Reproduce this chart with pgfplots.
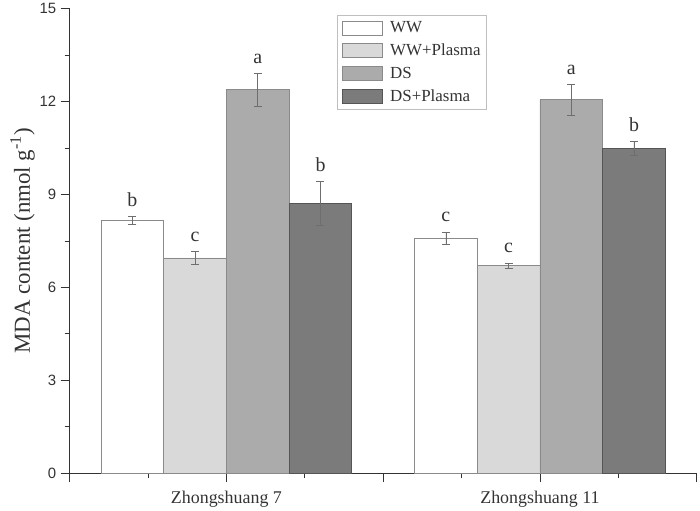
\documentclass[border=0pt]{standalone}
\usepackage{fontspec}
\setmainfont{Liberation Serif}
\newfontfamily\arial{Liberation Sans}
\usepackage{pgfplots}
\pgfplotsset{compat=1.18}
\definecolor{cWW}{HTML}{FFFFFF}
\definecolor{cWWP}{HTML}{D9D9D9}
\definecolor{cDS}{HTML}{ABABAB}
\definecolor{cDSP}{HTML}{7B7B7B}
\definecolor{edgeL}{HTML}{8A8A8A}
\definecolor{edgeD}{HTML}{555555}
\definecolor{errc}{HTML}{6E6E6E}
\definecolor{axc}{HTML}{333333}
\begin{document}
\begin{tikzpicture}
\begin{axis}[
  at={(0,0)}, anchor=south west,
  scale only axis, width=630pt, height=467pt,
  xmin=0.5, xmax=2.5, ymin=0, ymax=15,
  axis x line*=bottom, axis y line*=left,
  axis line style={axc, line width=0.8pt},
  every tick/.style={axc, line width=0.8pt},
  tick align=outside,
  major tick length=9pt, minor tick length=5pt,
  xtick={0.5,1,1.5,2,2.5},
  xticklabels={,Zhongshuang 7,,Zhongshuang 11,},
  minor xtick={0.75,1.25,1.75,2.25},
  ytick={0,3,6,9,12,15},
  minor ytick={1.5,4.5,7.5,10.5,13.5},
  /pgf/number format/assume math mode=true,
  yticklabel style={font=\arial\fontsize{15}{17}\selectfont, text=axc, xshift=-1pt},
  xticklabel style={font=\fontsize{18}{21}\selectfont, text=axc, yshift=-5pt},
  ylabel={MDA content (nmol g\textsuperscript{-1})},
  ylabel style={font=\fontsize{23}{26}\selectfont, text=axc, at={(axis description cs:-0.075,0.5)}, anchor=center},
  ybar, bar width=0.2, bar shift=0pt,
  error bars/y dir=both, error bars/y explicit,
  error bars/error bar style={errc, line width=0.6pt},
  error bars/error mark options={rotate=90, mark size=4pt, errc, line width=0.6pt},
  legend style={at={(rel axis cs:0.427,0.985)}, anchor=north west,
    draw=lightgray, font=\fontsize{17}{20}\selectfont, text=axc,
    inner sep=4pt, cells={anchor=west},
    /tikz/row sep=6pt,
    /tikz/every odd column/.append style={column sep=5pt}},
  legend image code/.code={\draw[#1, line width=0.8pt] (0pt,-7pt) rectangle (41pt,7pt);},
]
\addplot[fill=cWW, draw=edgeL, line width=0.8pt] coordinates {(0.7,8.17) +- (0,0.12) (1.7,7.59) +- (0,0.20)};
\addplot[fill=cWWP, draw=edgeL, line width=0.8pt] coordinates {(0.9,6.95) +- (0,0.22) (1.9,6.71) +- (0,0.08)};
\addplot[fill=cDS, draw=edgeL, line width=0.8pt] coordinates {(1.1,12.38) +- (0,0.53) (2.1,12.06) +- (0,0.50)};
\addplot[fill=cDSP, draw=edgeD, line width=0.8pt] coordinates {(1.3,8.71) +- (0,0.70) (2.3,10.49) +- (0,0.23)};
\legend{WW,WW+Plasma,DS,DS+Plasma}
\begin{scope}[every node/.style={font=\fontsize{20}{24}\selectfont, text=axc, anchor=base, yshift=10pt}]
\node at (axis cs:0.7,8.29) {b};
\node at (axis cs:0.9,7.17) {c};
\node at (axis cs:1.1,12.91) {a};
\node at (axis cs:1.3,9.41) {b};
\node at (axis cs:1.7,7.79) {c};
\node at (axis cs:1.9,6.79) {c};
\node at (axis cs:2.1,12.56) {a};
\node at (axis cs:2.3,10.72) {b};
\end{scope}
\end{axis}
\path (-70pt,-34pt) rectangle (630pt,475pt);
\end{tikzpicture}
\end{document}
